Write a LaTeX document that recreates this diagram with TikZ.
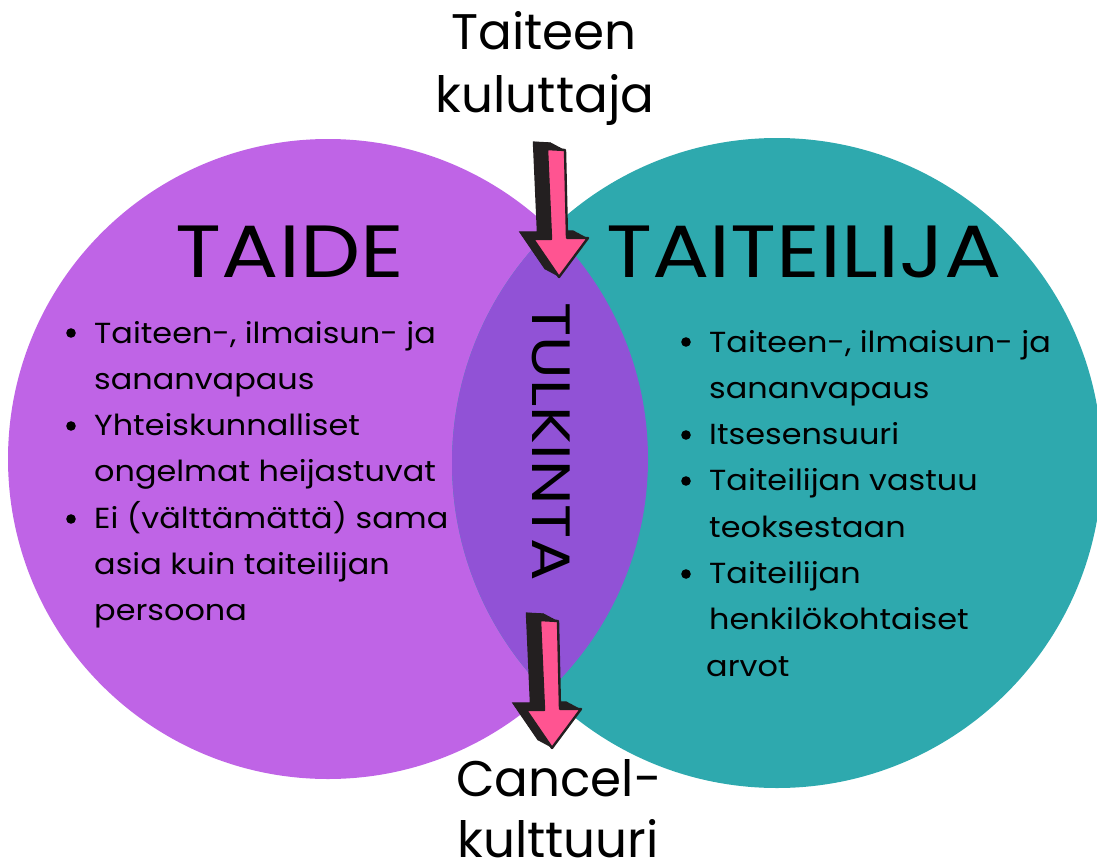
\documentclass[tikz,border=0pt]{standalone}
\usepackage{fontspec}
\setmainfont{Poppins}
\newfontfamily\widehead[FakeStretch=1.15]{Poppins}
\newfontfamily\widelist[FakeStretch=1.10]{Poppins}
\newfontfamily\widetulk[FakeStretch=1.17]{Poppins}
\definecolor{taidecol}{HTML}{BF64E6}
\definecolor{taitcol}{HTML}{2EA9AE}
\definecolor{lenscol}{HTML}{9152D6}
\definecolor{pinkcol}{HTML}{FF5491}
\definecolor{darkcol}{HTML}{231F20}
\newcommand\nb{\hspace*{48pt}}
\tikzset{
  title/.style={inner sep=0pt, anchor=base, font=\fontsize{50}{60}\selectfont},
  head/.style={inner sep=0pt, anchor=base, font=\widehead\fontsize{74}{80}\selectfont},
  listtext/.style={inner sep=0pt, anchor=base west, font=\widelist\fontsize{29}{46.3}\selectfont},
  bulletdot/.style={fill=black},
  pics/bigarrow/.style={code={
    \foreach \s in {0,0.05,...,1.0}{
      \fill[darkcol, shift={(-15*\s,-8*\s)}]
        (-12,-128) -- (6,-127) -- (8,-39) -- (29,-39) -- (0,0) -- (-26,-38) -- (-8,-38) -- cycle;
    }
    \filldraw[fill=pinkcol, draw=darkcol, line width=2.4pt, line join=round]
      (-12,-128) -- (6,-127) -- (8,-39) -- (29,-39) -- (0,0) -- (-26,-38) -- (-8,-38) -- cycle;
  }}
}
\begin{document}
\begin{tikzpicture}[x=1pt,y=-1pt]
\useasboundingbox (0,0) rectangle (1097,867);
% circles
\fill[taidecol] (328,459) circle (320);
\fill[taitcol] (777,463) circle (325);
\begin{scope}
  \clip (328,459) circle (320);
  \fill[lenscol] (777,463) circle (325);
\end{scope}
% headings
\node[head] (taide) at (290,277) {TAIDE};
\node[head] (taiteilija) at (804,277) {TAITEILIJA};
\node[inner sep=0pt, rotate=-90, font=\widetulk\fontsize{54}{60}\selectfont] (tulkinta) at (551,442) {TULKINTA};
% top and bottom labels
\node[title] (cons1) at (544,50) {Taiteen};
\node[title] (cons2) at (545,112) {kuluttaja};
\node[title] (cancel1) at (559,796) {Cancel-};
\node[title] (cancel2) at (558,857) {kulttuuri};
% lists
\node[listtext] (llist) at (46,343) {\begin{tabular}[t]{@{}l@{}}
\nb Taiteen-, ilmaisun- ja\\
\nb sananvapaus\\
\nb Yhteiskunnalliset\\
\nb ongelmat heijastuvat\\
\nb Ei (välttämättä) sama\\
\nb asia kuin taiteilijan\\
\nb persoona
\end{tabular}};
\node[listtext] (rlist) at (661,352) {\begin{tabular}[t]{@{}l@{}}
\nb Taiteen-, ilmaisun- ja\\
\nb sananvapaus\\
\nb Itsesensuuri\\
\nb Taiteilijan vastuu\\
\nb teoksestaan\\
\nb Taiteilijan\\
\nb henkilökohtaiset\\
\hspace*{45pt}arvot
\end{tabular}};
% bullets
\foreach \yy in {333,426,519}{\fill[bulletdot] (71,\yy) circle (4.8);}
\foreach \yy in {342,435,481,574}{\fill[bulletdot] (686,\yy) circle (4.8);}
% arrows
\coordinate (tipA) at (559,277);
\coordinate (tipB) at (552,748);
\pic at (tipA) {bigarrow};
\pic at (tipB) {bigarrow};
\end{tikzpicture}
\end{document}
